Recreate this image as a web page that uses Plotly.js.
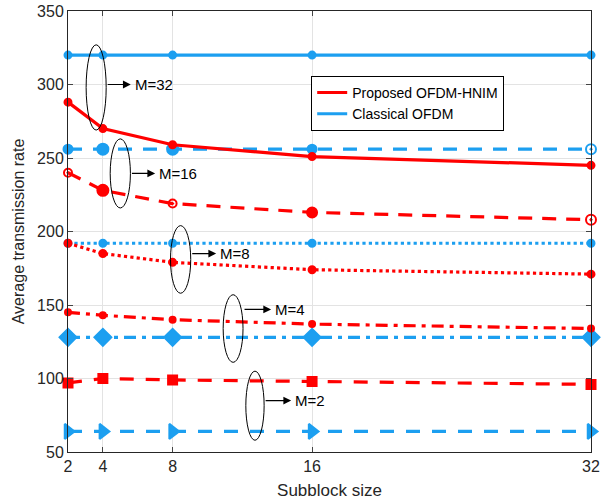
<!DOCTYPE html>
<html><head><meta charset="utf-8">
<script src="https://cdn.plot.ly/plotly-3.0.1.min.js"></script>
<style>body{margin:0;padding:0;background:#fff}#chart{width:610px;height:504px}</style>
</head><body><div id="chart"></div>
<script>
const subblock = [2, 4, 8, 16, 32];
const propM32 = [288, 270, 259, 251, 245];
const propM16 = [240, 228, 219, 213, 208];
const propM8  = [192, 185, 179, 174, 171];
const propM4  = [145, 143, 140, 137, 134];
const propM2  = [97, 100, 99, 98, 96];
const classM32 = [320, 320, 320, 320, 320];
const classM16 = [256, 256, 256, 256, 256];
const classM8  = [192, 192, 192, 192, 192];
const classM4  = [128, 128, 128, 128, 128];
const classM2  = [64, 64, 64, 64, 64];
const xTicks = [2, 4, 8, 16, 32];
const yTicks = [50, 100, 150, 200, 250, 300, 350];
const legendNames = ['Proposed OFDM-HNIM', 'Classical OFDM'];

const RED = '#ff0000', BLUE = '#1c9ff0';
function tr(y, color, dash, sym, size) {
  return {x: subblock, y: y, mode: 'lines+markers', showlegend: false, hoverinfo: 'skip', cliponaxis: false,
    line: {color: color, width: 3.2, dash: dash},
    marker: {color: color, symbol: sym, size: size, opacity: 1, line: {color: color, width: 2}}};
}
const data = [
  tr(classM32, BLUE, 'solid', 'circle', 7),
  tr(classM16, BLUE, '14px,11px', ['circle','circle','circle','circle','circle-open-dot'], [9,11,11,9,10]),
  tr(classM8, BLUE, 'dot', 'circle', 7),
  tr(classM4, BLUE, '12px,6px,4px,6px', 'diamond', 13),
  tr(classM2, BLUE, '14px,12px', 'triangle-right', 13),
  tr(propM32, RED, 'solid', 'circle', 7),
  tr(propM16, RED, '14px,10px', ['circle-open-dot','circle','circle-open-dot','circle','circle-open-dot'], [8,11,8,10,10]),
  tr(propM8, RED, 'dot', 'circle', 7),
  tr(propM4, RED, '12px,6px,4px,6px', 'circle', 6),
  tr(propM2, RED, '14px,12px', 'square', 9),
  {x: [null], y: [null], mode: 'lines', name: legendNames[0], line: {color: RED, width: 3}},
  {x: [null], y: [null], mode: 'lines', name: legendNames[1], line: {color: BLUE, width: 3}}
];

function ellipse(x0, x1, y0, y1) {
  return {type: 'circle', xref: 'x', yref: 'y', x0: x0, x1: x1, y0: y0, y1: y1,
    line: {color: 'black', width: 1}};
}
const shapes = [
  ellipse(3.04, 4.19, 269, 327),
  ellipse(4.42, 5.58, 216, 263),
  ellipse(7.88, 9.04, 158, 204),
  ellipse(10.9, 12.04, 111, 157),
  ellipse(12.2, 13.25, 58, 105)
];
function arrowAnn(xs, xe, y) {
  return {x: xe, y: y, ax: xs, ay: y, xref: 'x', yref: 'y', axref: 'x', ayref: 'y',
    text: '', showarrow: true, arrowhead: 2, arrowsize: 1.3, arrowwidth: 1.2, arrowcolor: 'black'};
}
function label(x, y, t) {
  return {x: x, y: y, xref: 'x', yref: 'y', text: t, showarrow: false, xanchor: 'left',
    font: {size: 15, color: 'black'}};
}
const annotations = [
  arrowAnn(4.19, 5.6, 300), label(5.7, 300, 'M=32'),
  arrowAnn(5.58, 7.0, 239.5), label(7.1, 239.5, 'M=16'),
  arrowAnn(9.04, 10.5, 185), label(10.6, 185, 'M=8'),
  arrowAnn(12.04, 13.65, 147), label(13.75, 147, 'M=4'),
  arrowAnn(13.25, 14.8, 85), label(14.9, 85, 'M=2')
];

const layout = {
  width: 610, height: 504,
  margin: {l: 68, r: 19, t: 11, b: 52},
  paper_bgcolor: 'white', plot_bgcolor: 'white',
  font: {family: 'Liberation Sans, Arial, sans-serif', size: 16, color: '#262626'},
  xaxis: {range: [2, 32], tickvals: xTicks, ticktext: xTicks.map(String), ticks: 'inside', ticklen: 5,
    showgrid: true, gridcolor: '#e3e3e3', gridwidth: 1, zeroline: false,
    showline: true, linecolor: '#262626', linewidth: 1, mirror: 'ticks',
    tickfont: {size: 16},
    title: {text: 'Subblock size', font: {size: 17}, standoff: 9}},
  yaxis: {range: [50, 350], tickvals: yTicks, ticks: 'inside', ticklen: 5,
    showgrid: true, gridcolor: '#e3e3e3', gridwidth: 1, zeroline: false,
    showline: true, linecolor: '#262626', linewidth: 1, mirror: 'ticks',
    tickfont: {size: 16},
    title: {text: 'Average transmission rate', font: {size: 16}, standoff: 8}},
  legend: {x: 0.465, y: 0.853, xanchor: 'left', yanchor: 'top', bgcolor: 'white',
    bordercolor: 'black', borderwidth: 1, font: {size: 14, color: 'black'}, tracegroupgap: 0},
  shapes: shapes,
  annotations: annotations,
  showlegend: true
};
Plotly.newPlot('chart', data, layout, {staticPlot: true, displayModeBar: false});
</script></body></html>
